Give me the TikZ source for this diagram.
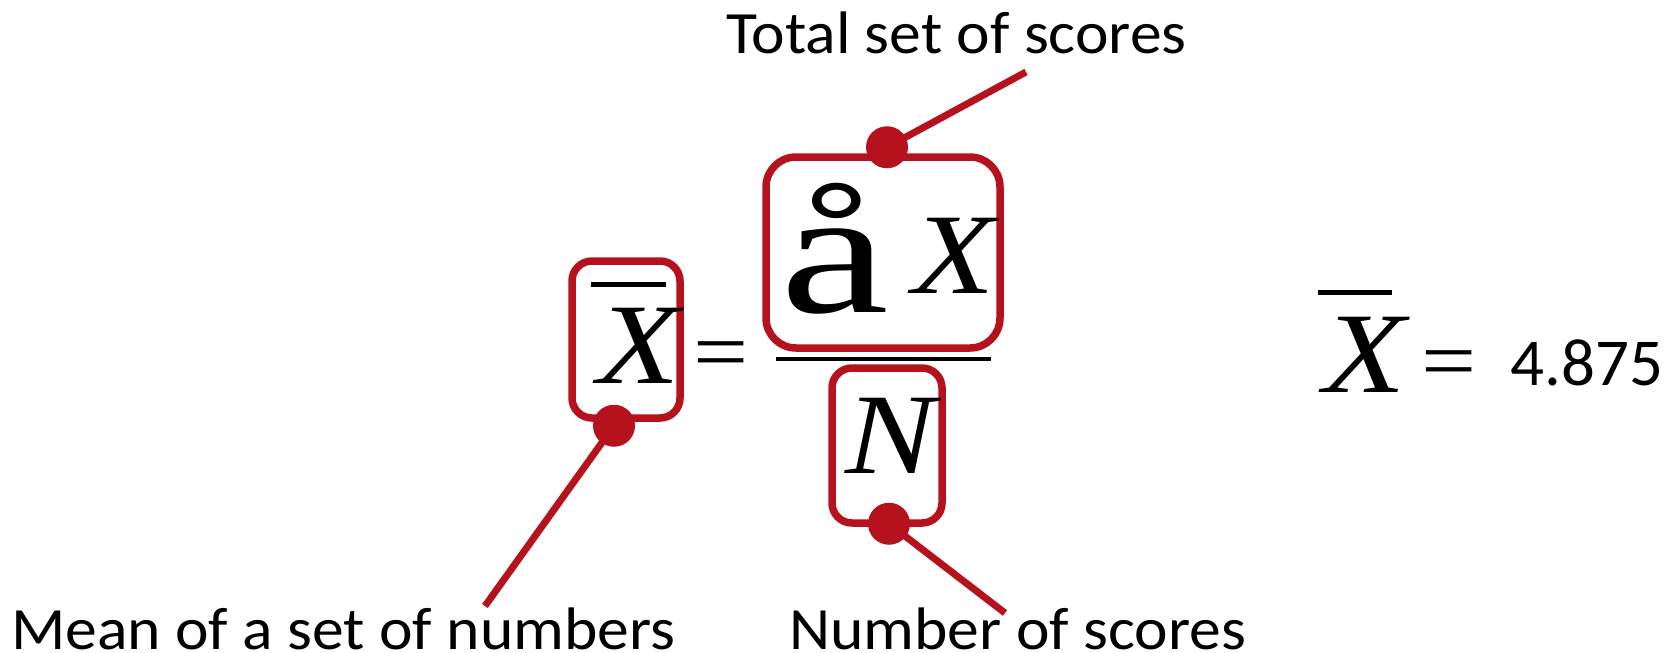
\documentclass[tikz,border=0pt]{standalone}
\usepackage{fontspec}
\usepackage{graphicx}
\setmainfont{Liberation Serif}
\newfontfamily\lblfont{Carlito}[FakeStretch=1.06]
\newfontfamily\valfont{Carlito}
\usetikzlibrary{calc}
\definecolor{accent}{RGB}{181,18,30}
\newcommand{\bigit}[1]{\scalebox{2.7}[2.3]{\fontsize{50}{60}\selectfont\itshape #1}}
\newcommand{\bigeq}{\scalebox{2.3}[2]{\fontsize{42.5}{50}\selectfont =}}
\begin{document}
\begin{tikzpicture}[x=1pt,y=-1pt,
  hl/.style={draw=accent, line width=7.5pt, rounded corners=20pt, inner sep=0pt},
  dotn/.style={circle, fill=accent, inner sep=0pt, minimum size=42pt},
  conn/.style={draw=accent, line width=7pt},
  lbl/.style={inner sep=0pt, text depth=0pt, font=\lblfont\fontsize{60}{70}\selectfont},
  glyph/.style={inner sep=0pt, anchor=base},
  barrule/.style={line width=5pt}]
\useasboundingbox (0,0) rectangle (1673,653);
% boxes
\node[hl, minimum width=108pt, minimum height=157pt] (bxbar) at (626,339.5) {};
\node[hl, rounded corners=30pt, minimum width=234pt, minimum height=191pt] (bsum) at (883,252.5) {};
\node[hl, minimum width=110pt, minimum height=155pt] (bn) at (887,445.5) {};
% formula
\node[glyph] (xbar) at (639,383) {\bigit{X}};
\draw[barrule] (591,284) -- (666,284);
\node[glyph] (eq1) at (721.5,380) {\bigeq};
\node[glyph] (sig) at (835,312) {\scalebox{4.8}[3.5]{\fontsize{51}{60}\selectfont å}};
\node[glyph] (xnum) at (954,293) {\bigit{X}};
\draw[line width=4pt] (776,359) -- (991,359);
\node[glyph] (nn) at (891,473) {\bigit{N}};
% result
\node[glyph] (xr) at (1365,392) {\bigit{X}};
\draw[barrule] (1318,292) -- (1392,292);
\node[glyph] (eq2) at (1449.5,389) {\bigeq};
\node[inner sep=0pt, anchor=base west, font=\valfont\fontsize{67}{80}\selectfont] (val) at (1510,385) {4.875};
% dots
\node[dotn] (d1) at ($(bxbar.south)+(-12,4)$) {};
\node[dotn] (d2) at ($(bsum.north)+(4,-6)$) {};
\node[dotn] (d3) at ($(bn.south)+(2,-3)$) {};
% connector ends
\coordinate (e1) at (485,606);
\coordinate (e2) at (1026,72);
\coordinate (e3) at (1005,613);
\draw[conn] (d1.center) -- (e1);
\draw[conn] (d2.center) -- (e2);
\draw[conn] (d3.center) -- (e3);
% labels
\node[lbl, anchor=base] (ltot) at (956.5,53) {Total set of scores};
\node[lbl, anchor=base west] (lmean) at (11,649) {Mean of a set of numbers};
\node[lbl, anchor=base] (lnum) at (1017.5,649) {Number of scores};
\end{tikzpicture}
\end{document}
